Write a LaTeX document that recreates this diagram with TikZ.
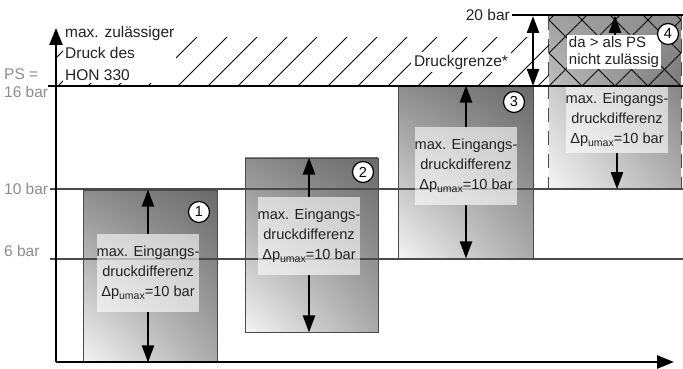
\documentclass[tikz,border=0pt]{standalone}
\usepackage{fontspec}
\setmainfont{Liberation Sans}
\usetikzlibrary{arrows.meta,shadings}
\definecolor{lblc}{HTML}{8C8C8C}
\definecolor{gridc}{HTML}{4A4A4A}
\definecolor{txtc}{HTML}{222222}
\definecolor{boxul}{HTML}{8E8E8E}
\definecolor{boxur}{HTML}{6A6A6A}
\definecolor{boxll}{HTML}{F4F4F4}
\definecolor{boxlr}{HTML}{AAAAAA}
\newcommand\dpu{Δp\raisebox{-2.6pt}{\fontsize{10.5}{10.5}\selectfont umax}=10 bar}
\begin{document}
\begin{tikzpicture}[x=1pt,y=1pt,
  bigbox/.style={draw=gridc, line width=0.9pt, inner sep=0, minimum width=134pt,
     upper left=boxul, upper right=boxur, lower left=boxll, lower right=boxlr},
  tbox/.style={fill=white, fill opacity=0.6, text opacity=1, text=txtc, align=center, inner sep=0,
     minimum width=99pt, minimum height=78pt, font=\fontsize{14.6}{20}\selectfont},
  arr/.style={line width=2.4pt, -{Triangle[length=17pt,width=12pt]}},
  darr/.style={line width=2.4pt, {Triangle[length=17pt,width=12pt]}-{Triangle[length=17pt,width=12pt]}},
  circ/.style={circle, draw, fill=white, line width=1.2pt, minimum size=21pt, inner sep=0,
     font=\fontsize{14.5}{14.5}\selectfont},
  lbl/.style={text=lblc, font=\fontsize{15.5}{15.5}\selectfont, inner sep=0},
  lblk/.style={text=txtc, font=\fontsize{15.5}{15.5}\selectfont, inner sep=0},
  gridl/.style={draw=gridc, line width=1.2pt},
  heavyl/.style={draw=black, line width=2.5pt},
  hatchl/.style={line width=0.8pt},
  wlbl/.style={fill=white, text=txtc, inner sep=2pt, font=\fontsize{15.5}{21.5}\selectfont}
]
\useasboundingbox (0,0) rectangle (683,369);

% coordinates
\coordinate (O) at (56,7);
\coordinate (ytip) at (56,341);
\coordinate (xtip) at (674,7);
\coordinate (g16a) at (48,283);   \coordinate (g16b) at (683,283);
\coordinate (g10a) at (50,180);   \coordinate (g10b) at (683,180);
\coordinate (g6a) at (50,110);    \coordinate (g6b) at (683,110);
\coordinate (g20a) at (512,354);  \coordinate (g20b) at (683,354);
\coordinate (d20) at (533,353);   \coordinate (d16) at (533,283);

% boxes 1-3
\node[bigbox, minimum height=172pt] (b1) at (150,93) {};
\node[bigbox, minimum width=133pt, minimum height=174pt] (b2) at (311.5,124) {};
\node[bigbox, minimum width=135pt, minimum height=172pt] (b3) at (465.5,197) {};

% box 4
\node[inner sep=0, minimum width=132pt, minimum height=173pt] (b4) at (615,266.5) {};
\shade[upper left=gray!75, upper right=gray!110!black, lower left=gray!50, lower right=gray!95!black]
  (b4.north west) rectangle (b4.east |- g16a);
\shade[upper left=gray!40, upper right=gray!95, lower left=gray!8, lower right=gray!62]
  (b4.west |- g16a) rectangle (b4.south east);
\begin{scope}
  \clip (b4.north west) rectangle (b4.east |- g16a);
  \foreach \k in {-3,...,8} {
    \draw[hatchl] (549+33*\k,283) -- ++(80,80);
    \draw[hatchl] (549+33*\k,283) -- ++(-80,80);
  }
\end{scope}
\draw[draw=gridc, line width=0.9pt, dash pattern=on 14pt off 9pt] (b4.north west) -- (b4.south west);
\draw[draw=gridc, line width=0.9pt, dash pattern=on 14pt off 9pt] (b4.north east) -- (b4.south east);

% hatched pressure-limit band
\begin{scope}
  \clip (56,283) rectangle (549,331);
  \foreach \k in {-1,...,17} {
    \draw[hatchl] (58+30*\k,283) -- ++(50,50);
  }
\end{scope}

% grid lines
\draw[gridl] (g10a) -- (g10b);
\draw[gridl] (g6a) -- (g6b);

% arrow anchor points (edges of the text panels)
\coordinate (t1n) at (148,135); \coordinate (t1s) at (148,57);
\coordinate (t2n) at (309,172); \coordinate (t2s) at (309,94);
\coordinate (t3n) at (466,242); \coordinate (t3s) at (466,164);
\coordinate (t4s) at (617,216);
\coordinate (u4) at (615,309);

% arrows
\draw[arr] (t1n) -- (t1n |- b1.north);
\draw[arr] (t1s) -- (t1s |- b1.south);
\draw[arr] (t2n) -- (t2n |- b2.north);
\draw[arr] (t2s) -- (t2s |- b2.south);
\draw[arr] (t3n) -- (t3n |- b3.north);
\draw[arr] (t3s) -- (t3s |- b3.south);
\draw[arr] (t4s) -- (t4s |- b4.south);
\draw[arr] (u4) -- (u4 |- b4.north);
\draw[darr] (d20) -- (d16);

% text panels
\node[tbox] (t1) at (148,96) {max. Eingangs-\\druckdifferenz\\\dpu};
\node[tbox] (t2) at (309,133) {max. Eingangs-\\druckdifferenz\\\dpu};
\node[tbox] (t3) at (466,203) {max. Eingangs-\\druckdifferenz\\\dpu};
\node[tbox, minimum height=66pt] (t4) at (617,249) {max. Eingangs-\\druckdifferenz\\\dpu};

% heavy lines and axes
\draw[heavyl] (g16a) -- (g16b);
\draw[draw=black, line width=2pt] (g20a) -- (g20b);
\draw[line width=2.5pt, -{Triangle[length=17pt,width=13pt]}] (O) -- (ytip);
\draw[line width=2.5pt, -{Triangle[length=17pt,width=13pt]}] (O) -- (xtip);

% labels on white
\node[wlbl, align=left, anchor=north west] (hon) at (63,345) {max. zulässiger\\Druck des\\HON 330};
\node[wlbl, inner sep=3pt] (dg) at (461,307) {Druckgrenze*};
\node[wlbl, align=left, inner sep=1.5pt, font=\fontsize{15}{17}\selectfont] (np) at (614,317) {da > als PS\\nicht zulässig};

% axis labels
\node[lbl, anchor=base west] (ps) at (4,289) {PS =};
\node[lbl, anchor=base west] (l16) at (4,271) {16 bar};
\node[lbl, anchor=west] (l10) at (4,180) {10 bar};
\node[lbl, anchor=base west] (l6) at (4,112) {6 bar};
\node[lblk, anchor=base east] (l20) at (510,348) {20 bar};

% circles
\node[circ] (c1) at (199,157) {1};
\node[circ] (c2) at (363,197) {2};
\node[circ] (c3) at (514,267) {3};
\node[circ] (c4) at (668,335) {4};
\end{tikzpicture}
\end{document}
